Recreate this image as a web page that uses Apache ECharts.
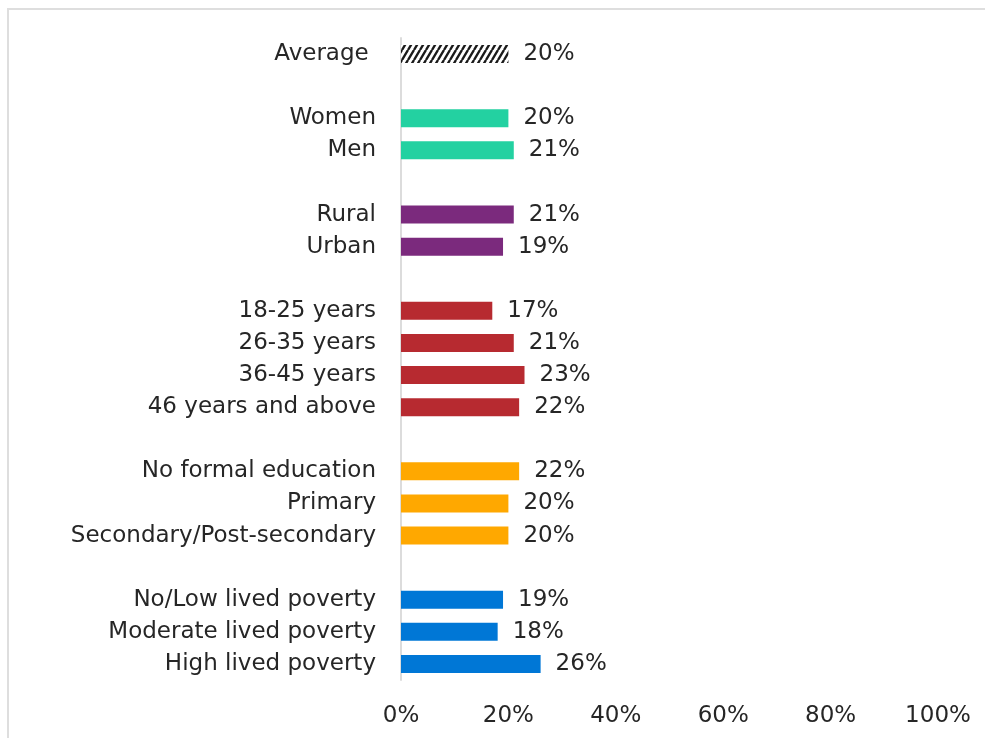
<!DOCTYPE html>
<html>
<head>
<meta charset="utf-8">
<script src="https://cdn.jsdelivr.net/npm/echarts@6/dist/echarts.min.js"></script>
<style>
  html, body { margin: 0; padding: 0; background: #fff; overflow: hidden; }
  #frame { position: absolute; left: 7px; top: 8px; width: 1200px; height: 1000px;
           border: 2px solid #dedede; box-sizing: border-box; }
  #chart { position: absolute; left: 0; top: 0; width: 985px; height: 738px; }
</style>
</head>
<body>
<div id="frame"></div>
<div id="chart"></div>
<script>
// Row labels, top to bottom; empty strings are spacer rows between groups
const categories = [
  'Average ', '',
  'Women', 'Men', '',
  'Rural', 'Urban', '',
  '18-25 years', '26-35 years', '36-45 years', '46 years and above', '',
  'No formal education', 'Primary', 'Secondary/Post-secondary', '',
  'No/Low lived poverty', 'Moderate lived poverty', 'High lived poverty'
];
// Share in percent for each row (null on spacer rows)
const values = [
  20, null,
  20, 21, null,
  21, 19, null,
  17, 21, 23, 22, null,
  22, 20, 20, null,
  19, 18, 26
];
// Group each row belongs to
const groups = [
  'average', null,
  'gender', 'gender', null,
  'location', 'location', null,
  'age', 'age', 'age', 'age', null,
  'education', 'education', 'education', null,
  'poverty', 'poverty', 'poverty'
];
const xTicks = [0, 20, 40, 60, 80, 100];

// Steep diagonal hatch used for the average bar
function hatchPattern() {
  const w = 6, h = 10;
  const c = document.createElement('canvas');
  c.width = w; c.height = h;
  const g = c.getContext('2d');
  g.fillStyle = '#ffffff';
  g.fillRect(0, 0, w, h);
  g.strokeStyle = '#1a1a1a';
  g.lineWidth = 2.4;
  g.beginPath();
  for (let k = -w; k <= 2 * w; k += w) {
    g.moveTo(k, h);
    g.lineTo(k + w, 0);
  }
  g.stroke();
  return c;
}

const palette = {
  average: { image: hatchPattern(), repeat: 'repeat' },
  gender: '#23d1a1',
  location: '#7b2a7d',
  age: '#b72a30',
  education: '#ffa800',
  poverty: '#0077d6'
};

// Spacer rows need unique axis names
const axisNames = categories.map((c, i) => c === '' ? ' '.repeat(i + 1) : c);

const font = 'DejaVu Sans';
const chart = echarts.init(document.getElementById('chart'), null, { renderer: 'canvas' });
chart.setOption({
  animation: false,
  backgroundColor: 'transparent',
  grid: { left: 401, right: 47, top: 38, bottom: 58, containLabel: false },
  xAxis: {
    type: 'value',
    min: xTicks[0],
    max: xTicks[xTicks.length - 1],
    interval: xTicks[1] - xTicks[0],
    axisLine: { show: false },
    axisTick: { show: false },
    splitLine: { show: false },
    axisLabel: {
      formatter: '{value}%',
      color: '#262626',
      fontFamily: font,
      fontSize: 23,
      margin: 25
    }
  },
  yAxis: {
    type: 'category',
    inverse: true,
    data: axisNames,
    axisLine: { show: true, lineStyle: { color: '#dcdcdc', width: 2 } },
    axisTick: { show: false },
    axisLabel: {
      color: '#262626',
      fontFamily: font,
      fontSize: 23,
      margin: 25,
      formatter: v => v.trim() === '' ? '' : v
    }
  },
  series: [{
    type: 'bar',
    barWidth: 18,
    data: values.map((v, i) => v === null ? '-' : {
      value: v,
      itemStyle: { color: palette[groups[i]] }
    }),
    label: {
      show: true,
      position: 'right',
      distance: 15,
      formatter: p => p.value + '%',
      color: '#262626',
      fontFamily: font,
      fontSize: 23
    }
  }]
});
</script>
</body>
</html>
